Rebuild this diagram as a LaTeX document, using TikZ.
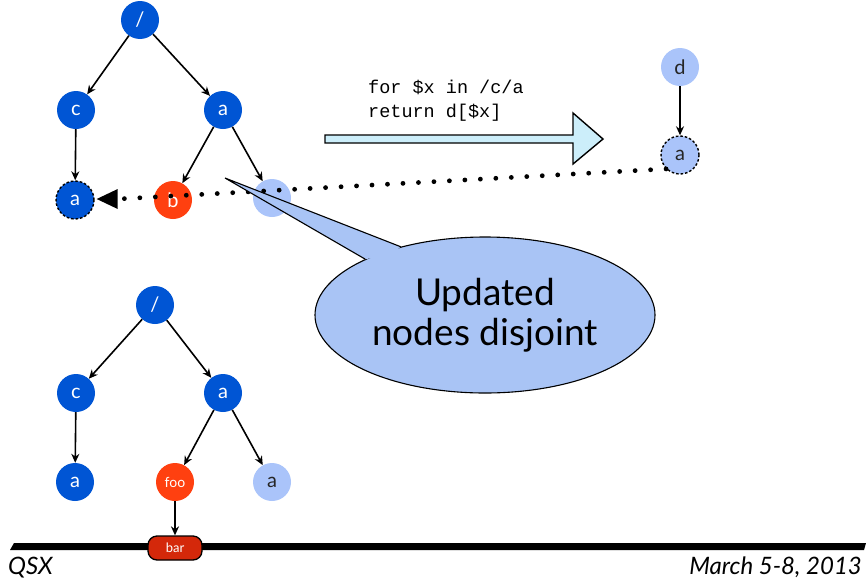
\documentclass[tikz,border=0pt]{standalone}
\usepackage{fontspec}
\setmainfont{Lato}
\newfontfamily\codefont{Liberation Mono}
\usetikzlibrary{arrows.meta,shapes.geometric,calc}

\definecolor{treeblue}{RGB}{0,85,212}
\definecolor{paleblue}{RGB}{170,196,250}
\definecolor{fooorange}{RGB}{255,64,16}
\definecolor{barred}{RGB}{212,40,10}
\definecolor{arrowcyan}{RGB}{204,238,250}
\definecolor{bubbleblue}{RGB}{169,196,245}

\tikzset{
  xnode/.style={circle, fill=treeblue, text=white, minimum size=38pt, inner sep=0pt,
    font=\fontsize{20}{22}\selectfont},
  palenode/.style={xnode, fill=paleblue, text=black!85},
  newnode/.style={xnode, fill=fooorange, font=\fontsize{14}{16}\selectfont},
  copied/.style={draw=black, line width=1.4pt, dash pattern=on 2.5pt off 2pt},
  edge/.style={line width=1.6pt, -{Stealth[length=9pt,width=8pt]}},
  dotline/.style={line width=4.8pt, line cap=round, dash pattern=on 0pt off 15.5pt},
}

\begin{document}
\begin{tikzpicture}[x=1pt,y=-1pt]
  \useasboundingbox (0,0) rectangle (866,581);

  %%%%% upper tree %%%%%
  \node[xnode] (r1) at (140,20) {/};
  \node[xnode] (c1) at (76,110) {c};
  \node[xnode] (a1) at (223,110) {a};
  \node[xnode, copied] (ca1) at (75,200) {a};
  \node[newnode, font=\fontsize{20}{22}\selectfont] (b1) at (173,200) {b};
  \node[palenode] (pa1) at (272,198) {};

  \draw[edge] (r1) -- (c1);
  \draw[edge] (r1) -- (a1);
  \draw[edge] (c1) -- (ca1);
  \draw[edge] (a1) -- (b1);
  \draw[edge] (a1) -- (pa1);

  %%%%% query and its result %%%%%
  \node[anchor=north west, align=left, inner sep=0pt,
        font=\codefont\fontsize{18.5}{23.5}\selectfont] (query) at (368,80)
        {for \$x in /c/a\\return d[\$x]};
  \draw[line width=1.4pt, fill=arrowcyan]
    (325,135) -- (573,135) -- (573,113) -- (603,139) -- (573,164) -- (573,143) -- (325,143) -- cycle;

  \node[palenode] (d2) at (680,67) {d};
  \node[palenode, copied] (a2) at (680,155) {a};
  \draw[edge] (d2) -- (a2);

  % dotted link back to the copied node
  \coordinate (tipbase) at ($(ca1.east)+(23,-1)$);
  \draw[dotline] (a2.225) -- (tipbase);
  \fill (ca1.east) ++(2,-1) -- ++(21,-10) -- ++(0,20) -- cycle;

  %%%%% callout: ellipse, then the tail over its rim %%%%%
  \coordinate (pointer) at (225,178);
  \node[ellipse, draw=black, line width=1.1pt, fill=bubbleblue,
        minimum width=340pt, minimum height=156pt, inner sep=0pt,
        align=center, font=\fontsize{37}{40}\selectfont] (bubble) at (485,315)
        {Updated\\nodes disjoint};
  \fill[bubbleblue] (bubble.155) -- (pointer) -- (bubble.141)
    -- ($(bubble.148)!0.06!(bubble.center)$) -- cycle;
  \draw[line width=1.1pt, line join=miter] (bubble.155) -- (pointer) -- (bubble.141);

  %%%%% lower tree %%%%%
  \node[xnode] (r3) at (155,305) {/};
  \node[xnode] (c3) at (76,393) {c};
  \node[xnode] (a3) at (223,393) {a};
  \node[xnode] (ca3) at (75,482) {a};
  \node[newnode] (foo) at (175,482) {foo};
  \node[palenode] (pa3) at (272,482) {a};

  \draw[edge] (r3) -- (c3);
  \draw[edge] (r3) -- (a3);
  \draw[edge] (c3) -- (ca3);
  \draw[edge] (a3) -- (foo);
  \draw[edge] (a3) -- (pa3);

  %%%%% footer %%%%%
  \fill (10,550) -- (14,543) -- (866,543) -- (864,550) -- cycle;
  \node[draw=black, line width=1.3pt, fill=barred, text=white, rounded corners=9pt,
        minimum width=54pt, minimum height=24pt, inner sep=0pt,
        font=\fontsize{13}{15}\selectfont] (bar) at (175,548) {bar};
  \draw[edge] (foo) -- (bar);

  \node[anchor=base west, inner sep=0pt, font=\itshape\fontsize{24}{26}\selectfont] (qsx) at (8,574) {QSX};
  \node[anchor=base east, inner sep=0pt, font=\itshape\fontsize{24}{26}\selectfont] (date) at (862,574) {March 5-8, 2013};
\end{tikzpicture}
\end{document}
